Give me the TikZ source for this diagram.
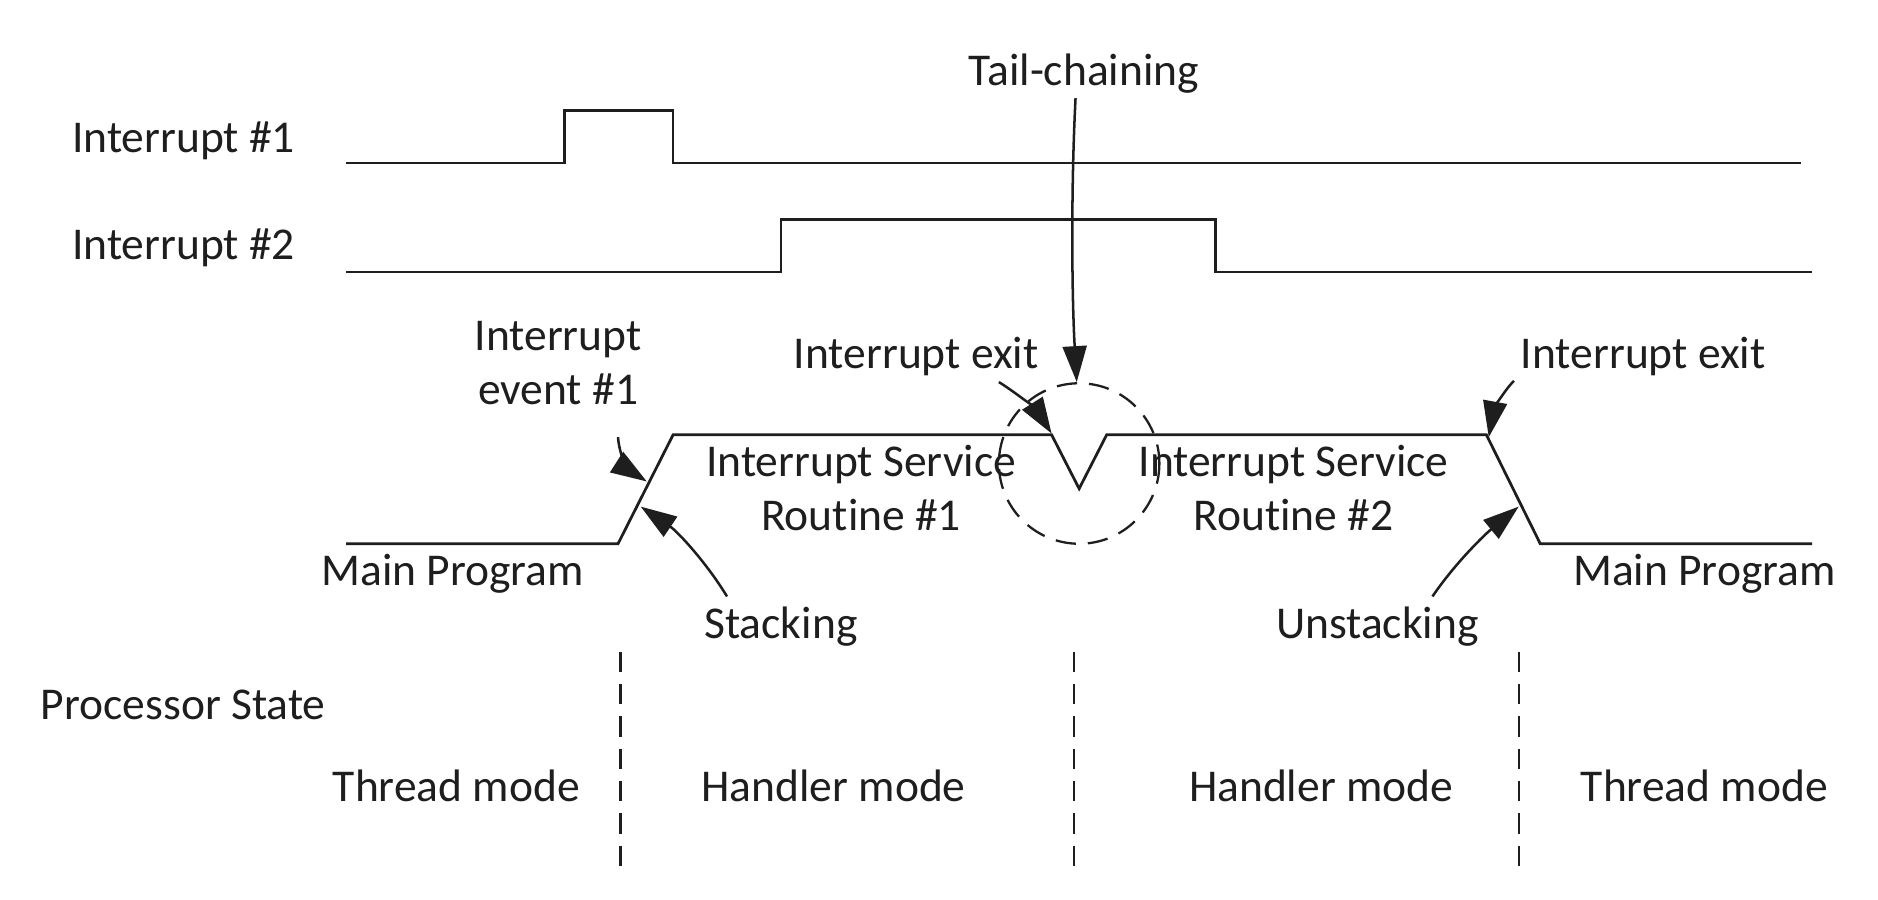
\documentclass[tikz,border=0pt]{standalone}
\usepackage{fontspec}
\setmainfont{Carlito}[Ligatures={NoCommon}]
\usetikzlibrary{arrows.meta}
\definecolor{ink}{HTML}{1E1E1E}
\begin{document}
\begin{tikzpicture}[x=1pt,y=-1pt,
  sig/.style={line width=2.3pt, draw=ink, line join=miter},
  lbl/.style={inner sep=0pt, font=\fontsize{38}{45}\selectfont, text=ink, anchor=base},
  ptr/.style={line width=2.1pt, draw=ink, -{Triangle[length=30pt,width=20pt]}},
  sepline/.style={line width=1.9pt, draw=ink, dash pattern=on 17pt off 10pt},
  ring/.style={line width=1.9pt, draw=ink, dash pattern=on 17pt off 10pt},
]
\useasboundingbox (0,0) rectangle (1568,751);

% signal labels
\node[lbl, anchor=base west] (irq1) at (60,127) {Interrupt \#1};
\node[lbl, anchor=base west] (irq2) at (60,217) {Interrupt \#2};

% interrupt request waveforms
\draw[sig] (289,136) -- (471,136) -- (471,92) -- (562,92) -- (562,136) -- (1504,136);
\draw[sig] (289,227) -- (652,227) -- (652,183) -- (1015,183) -- (1015,227) -- (1513,227);

% execution trace
\coordinate (m0) at (289,454);
\coordinate (s0) at (516,454);
\coordinate (s1) at (562,363);
\coordinate (v0) at (878,363);
\coordinate (v1) at (901,408);
\coordinate (v2) at (924,363);
\coordinate (u0) at (1241,363);
\coordinate (u1) at (1286,454);
\coordinate (m1) at (1513,454);
\draw[sig] (m0) -- (s0) -- (s1) -- (v0) -- (v1) -- (v2) -- (u0) -- (u1) -- (m1);

% tail-chaining highlight
\draw[ring] (901,387) circle (67);
\coordinate (ringtop) at (899,319);

% trace labels (multi-line nodes are placed by the baseline of their last line)
\node[lbl] (tc) at (905,71) {Tail-chaining};
\node[lbl, align=center] (ev1) at (466,338) {Interrupt\\event \#1};
\node[lbl] (ex1) at (765,308) {Interrupt exit};
\node[lbl] (ex2) at (1372,308) {Interrupt exit};
\node[lbl, align=center] (isr1) at (719,443) {Interrupt Service\\Routine \#1};
\node[lbl, align=center] (isr2) at (1080,443) {Interrupt Service\\Routine \#2};
\node[lbl] (mp1) at (378,489) {Main Program};
\node[lbl] (mp2) at (1423,489) {Main Program};
\node[lbl] (stk) at (652,533) {Stacking};
\node[lbl] (ustk) at (1150,533) {Unstacking};

% pointer arrows
\coordinate (tcS) at (898,82);
\draw[ptr] (tcS) .. controls (894,160) and (895,250) .. (ringtop);
\coordinate (ex1S) at (834,319);
\coordinate (ex1T) at (878,362);
\draw[ptr] (ex1S) .. controls (850,329) and (866,343) .. (ex1T);
\coordinate (ev1S) at (516,365);
\coordinate (ev1T) at (540,402);
\draw[ptr] (ev1S) .. controls (517,381) and (526,393) .. (ev1T);
\coordinate (stkS) at (607,498);
\coordinate (stkT) at (535,423);
\draw[ptr] (stkS) .. controls (590,470) and (566,444) .. (stkT);
\coordinate (ex2S) at (1264,318);
\coordinate (ex2T) at (1243,365);
\draw[ptr] (ex2S) .. controls (1255,327) and (1247,343) .. (ex2T);
\coordinate (ustkS) at (1196,498);
\coordinate (ustkT) at (1268,423);
\draw[ptr] (ustkS) .. controls (1215,470) and (1240,446) .. (ustkT);

% processor state
\node[lbl] (ps) at (153,601) {Processor State};
\coordinate (d1a) at (518,544); \coordinate (d1b) at (518,728);
\coordinate (d2a) at (897,544); \coordinate (d2b) at (897,728);
\coordinate (d3a) at (1268,544); \coordinate (d3b) at (1268,728);
\draw[sepline] (d1a) -- (d1b);
\draw[sepline] (d2a) -- (d2b);
\draw[sepline] (d3a) -- (d3b);
\node[lbl] (th1) at (381,669) {Thread mode};
\node[lbl] (hd1) at (696,669) {Handler mode};
\node[lbl] (hd2) at (1103,669) {Handler mode};
\node[lbl] (th2) at (1423,669) {Thread mode};
\end{tikzpicture}
\end{document}
